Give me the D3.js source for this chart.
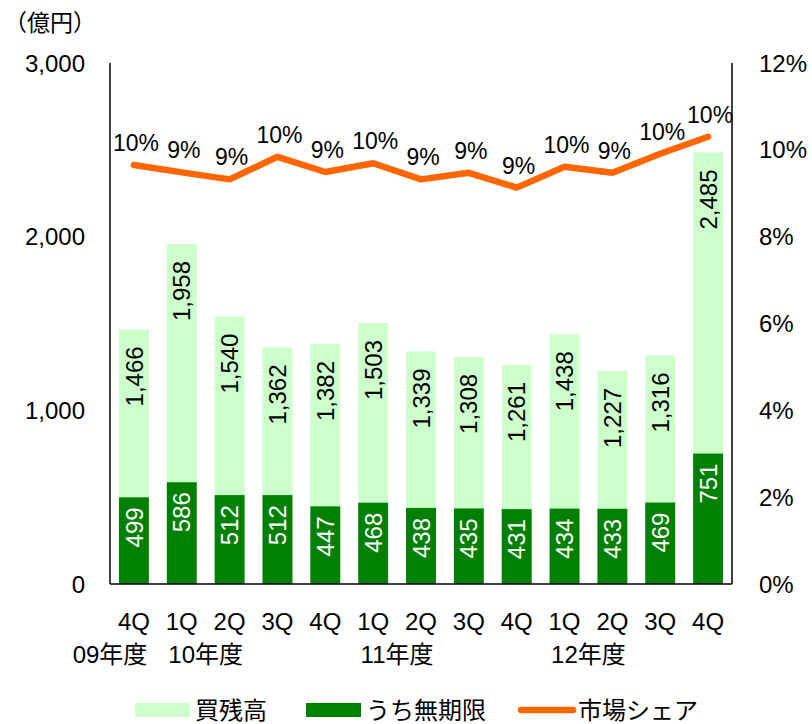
<!DOCTYPE html>
<html>
<head>
<meta charset="utf-8">
<script src="https://cdn.jsdelivr.net/npm/d3@7"></script>
<style>
  body { margin: 0; background: #fff; }
  text { font-family: "Liberation Sans", Arial, "Noto Sans CJK JP", sans-serif; fill: #000; }
</style>
</head>
<body>
<div id="chart"></div>
<script>
// data
const quarters = ["4Q", "1Q", "2Q", "3Q", "4Q", "1Q", "2Q", "3Q", "4Q", "1Q", "2Q", "3Q", "4Q"]
const totalBalance = [1466, 1958, 1540, 1362, 1382, 1503, 1339, 1308, 1261, 1438, 1227, 1316, 2485]
const unlimitedBalance = [499, 586, 512, 512, 447, 468, 438, 435, 431, 434, 433, 469, 751]
const marketShare = [9.65, 9.48, 9.32, 9.84, 9.49, 9.69, 9.32, 9.47, 9.13, 9.61, 9.47, 9.91, 10.30]
const yearLabels = ["09年度", "10年度", "11年度", "12年度"]
const yearAt = [0, 2, 6, 10]   // band boundary the year label sits under
const leftTicks = [0, 1000, 2000, 3000]
const rightTicks = [0, 2, 4, 6, 8, 10, 12]
const legendNames = ["買残高", "うち無期限", "市場シェア"]

const light = "#CCFFCC", dark = "#008000", orange = "#FF6600"

// step 1: dimensions
const W = 812, H = 724
const margin = { left: 110, right: 80, top: 63, bottom: 140 }
const width = W - margin.left - margin.right
const height = H - margin.top - margin.bottom

const svg = d3.select("#chart").append("svg")
    .attr("width", W)
    .attr("height", H)

const g = svg.append("g")
    .attr("transform", "translate(" + margin.left + "," + margin.top + ")")

// step 2: scales
const idx = quarters.map((d, i) => i)
const x = d3.scaleBand().domain(idx).range([0, width]).paddingInner(0.375).paddingOuter(0.1875)
const xPos = d3.scaleLinear().domain([0, quarters.length]).range([0, width])
const y = d3.scaleLinear().domain([0, 3000]).range([height, 0])
const y2 = d3.scaleLinear().domain([0, 12]).range([height, 0])
const cx = (i) => x(i) + x.bandwidth() / 2

const fmt = d3.format(",")

// step 3: bars (dark bar overlays the light one)
g.selectAll("rect.total").data(totalBalance).enter().append("rect")
    .attr("x", (d, i) => x(i))
    .attr("y", (d) => y(d))
    .attr("width", x.bandwidth())
    .attr("height", (d) => height - y(d))
    .attr("fill", light)

g.selectAll("rect.unl").data(unlimitedBalance).enter().append("rect")
    .attr("x", (d, i) => x(i))
    .attr("y", (d) => y(d))
    .attr("width", x.bandwidth())
    .attr("height", (d) => height - y(d))
    .attr("fill", dark)

// bar labels, rotated, inside end
g.selectAll("text.total").data(totalBalance).enter().append("text")
    .attr("transform", (d, i) => "translate(" + cx(i) + "," + (y(d) + 17) + ") rotate(-90)")
    .attr("text-anchor", "end")
    .attr("dy", "0.36em")
    .attr("font-size", "24px")
    .text((d) => fmt(d))

g.selectAll("text.unl").data(unlimitedBalance).enter().append("text")
    .attr("transform", (d, i) => "translate(" + cx(i) + "," + (y(d) + 10) + ") rotate(-90)")
    .attr("text-anchor", "end")
    .attr("dy", "0.36em")
    .attr("font-size", "24px")
    .style("fill", "#fff")
    .text((d) => d)

// step 4: axes lines
g.append("line").attr("x1", 0).attr("x2", 0).attr("y1", 0).attr("y2", height).attr("stroke", "#000").attr("stroke-width", 1.5)
g.append("line").attr("x1", width).attr("x2", width).attr("y1", 0).attr("y2", height).attr("stroke", "#000").attr("stroke-width", 1.5)
g.append("line").attr("x1", 0).attr("x2", width).attr("y1", height).attr("y2", height).attr("stroke", "#000").attr("stroke-width", 1.5)

// tick labels
g.selectAll("text.yl").data(leftTicks).enter().append("text")
    .attr("x", -25)
    .attr("y", (d) => y(d))
    .attr("dy", "0.36em")
    .attr("text-anchor", "end")
    .attr("font-size", "24px")
    .text((d) => fmt(d))

g.selectAll("text.yr").data(rightTicks).enter().append("text")
    .attr("x", width + 27)
    .attr("y", (d) => y2(d))
    .attr("dy", "0.36em")
    .attr("font-size", "24px")
    .text((d) => d + "%")

g.selectAll("text.xq").data(quarters).enter().append("text")
    .attr("x", (d, i) => cx(i))
    .attr("y", height + 46)
    .attr("text-anchor", "middle")
    .attr("font-size", "24px")
    .text((d) => d)

g.selectAll("text.xy").data(yearLabels).enter().append("text")
    .attr("x", (d, i) => xPos(yearAt[i]))
    .attr("y", height + 79)
    .attr("text-anchor", "middle")
    .attr("font-size", "24px")
    .text((d) => d)

// unit label
svg.append("text")
    .attr("x", 4)
    .attr("y", 31)
    .attr("font-size", "23px")
    .text("（億円）")

// step 5: market share line
const line = d3.line().x((d, i) => cx(i)).y((d) => y2(d))
g.append("path")
    .datum(marketShare)
    .attr("d", line)
    .attr("fill", "none")
    .attr("stroke", orange)
    .attr("stroke-width", 6.5)
    .attr("stroke-linejoin", "round")
    .attr("stroke-linecap", "round")

g.selectAll("text.share").data(marketShare).enter().append("text")
    .attr("x", (d, i) => cx(i) + 2)
    .attr("y", (d) => y2(d) - 14)
    .attr("text-anchor", "middle")
    .attr("font-size", "23px")
    .text((d) => Math.round(d) + "%")

// step 6: legend
const leg = svg.append("g").attr("transform", "translate(0,710)")
const legX = [135, 306, 518]
leg.append("rect").attr("x", legX[0]).attr("y", -7).attr("width", 55).attr("height", 14).attr("fill", light)
leg.append("rect").attr("x", legX[1]).attr("y", -7).attr("width", 55).attr("height", 14).attr("fill", dark)
leg.append("line").attr("x1", legX[2] + 3).attr("x2", legX[2] + 55).attr("y1", 0).attr("y2", 0)
    .attr("stroke", orange).attr("stroke-width", 6.5).attr("stroke-linecap", "round")
leg.selectAll("text").data(legendNames).enter().append("text")
    .attr("x", (d, i) => legX[i] + 60)
    .attr("dy", "0.36em")
    .attr("font-size", "24px")
    .text((d) => d)
</script>
</body>
</html>
